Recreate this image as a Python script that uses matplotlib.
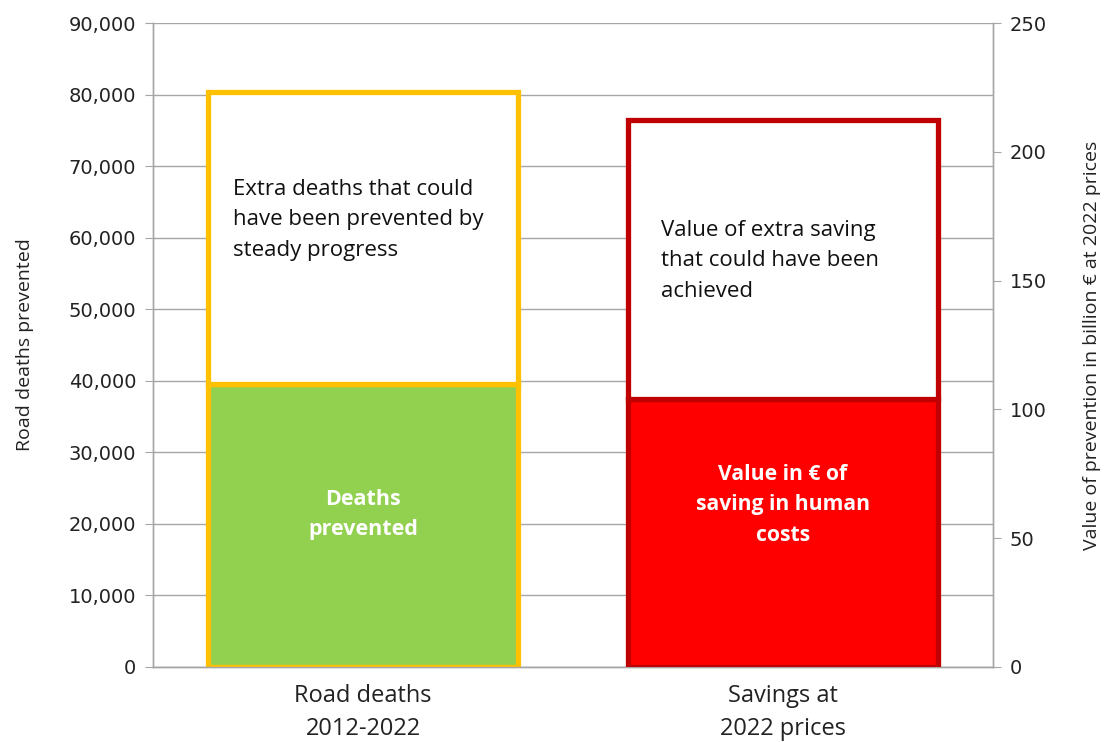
import matplotlib
matplotlib.use("Agg")
import matplotlib.pyplot as plt
from matplotlib.ticker import FuncFormatter, MultipleLocator

plt.rcParams['font.family'] = ['Open Sans', 'DejaVu Sans']

categories = ["Road deaths\n2012-2022", "Savings at\n2022 prices"]
deaths_prevented = [39600]
extra_deaths = [40800]
value_saving = [104.2]
extra_value = [108.0]

fig = plt.figure(figsize=(11.06, 7.42), dpi=100)
ax = fig.add_axes([0.1383, 0.1011, 0.8978 - 0.1383, 0.969 - 0.1011])
ax2 = ax.twinx()

x = [0, 1]
w = 0.74
lw = 3.8

ax.bar(x[0], deaths_prevented[0], width=w, color="#92d050", edgecolor="#ffc000", linewidth=lw, zorder=3)
ax.bar(x[0], extra_deaths[0], bottom=deaths_prevented[0], width=w, color="white", edgecolor="#ffc000", linewidth=lw, zorder=3)
ax2.bar(x[1], value_saving[0], width=w, color="#ff0000", edgecolor="#c00000", linewidth=lw, zorder=3)
ax2.bar(x[1], extra_value[0], bottom=value_saving[0], width=w, color="white", edgecolor="#c00000", linewidth=lw, zorder=3)

ax.set_xlim(-0.5, 1.5)
ax.set_ylim(0, 90000)
ax2.set_ylim(0, 250)
ax.yaxis.set_major_locator(MultipleLocator(10000))
ax2.yaxis.set_major_locator(MultipleLocator(50))
ax.yaxis.set_major_formatter(FuncFormatter(lambda v, p: f"{int(v):,}"))
ax.grid(axis="y", color="#a6a6a6", linewidth=1.0, zorder=0)
ax.set_axisbelow(True)

ax.set_xticks(x)
ax.set_xticklabels(categories, fontsize=17, color="#222222", linespacing=1.5)
ax.tick_params(axis="x", length=0, pad=12)
ax.tick_params(axis="y", length=6, color="#a6a6a6", pad=6)
ax2.tick_params(axis="y", length=6, color="#a6a6a6", pad=6)
for lab in ax.get_yticklabels() + ax2.get_yticklabels():
    lab.set_fontfamily("DejaVu Sans")
    lab.set_fontsize(14)
    lab.set_color("#222222")

for a in (ax, ax2):
    a.spines["top"].set_visible(False)
    for s in ("left", "right", "bottom"):
        a.spines[s].set_color("#a6a6a6")
        a.spines[s].set_linewidth(1.0)

ax.set_ylabel("Road deaths prevented", fontsize=14, color="#222222", labelpad=25)
ax2.set_ylabel("Value of prevention in billion € at 2022 prices", fontsize=14, color="#222222", labelpad=26)

ax.text(-0.31, 68200, "Extra deaths that could\nhave been prevented by\nsteady progress", fontsize=16,
        ha="left", va="top", color="#111111", linespacing=1.58, zorder=5)
ax.text(0, 21300, "Deaths\nprevented", fontsize=15.5, fontweight="bold", ha="center", va="center",
        color="white", linespacing=1.58, zorder=5)
ax2.text(0.71, 173.5, "Value of extra saving\nthat could have been\nachieved", fontsize=16,
         ha="left", va="top", color="#111111", linespacing=1.58, zorder=5)
ax2.text(1.0, 63, "Value in € of\nsaving in human\ncosts", fontsize=15.2, fontweight="bold", ha="center",
         va="center", color="white", linespacing=1.6, zorder=5)

fig.savefig("out.png", dpi=100)
